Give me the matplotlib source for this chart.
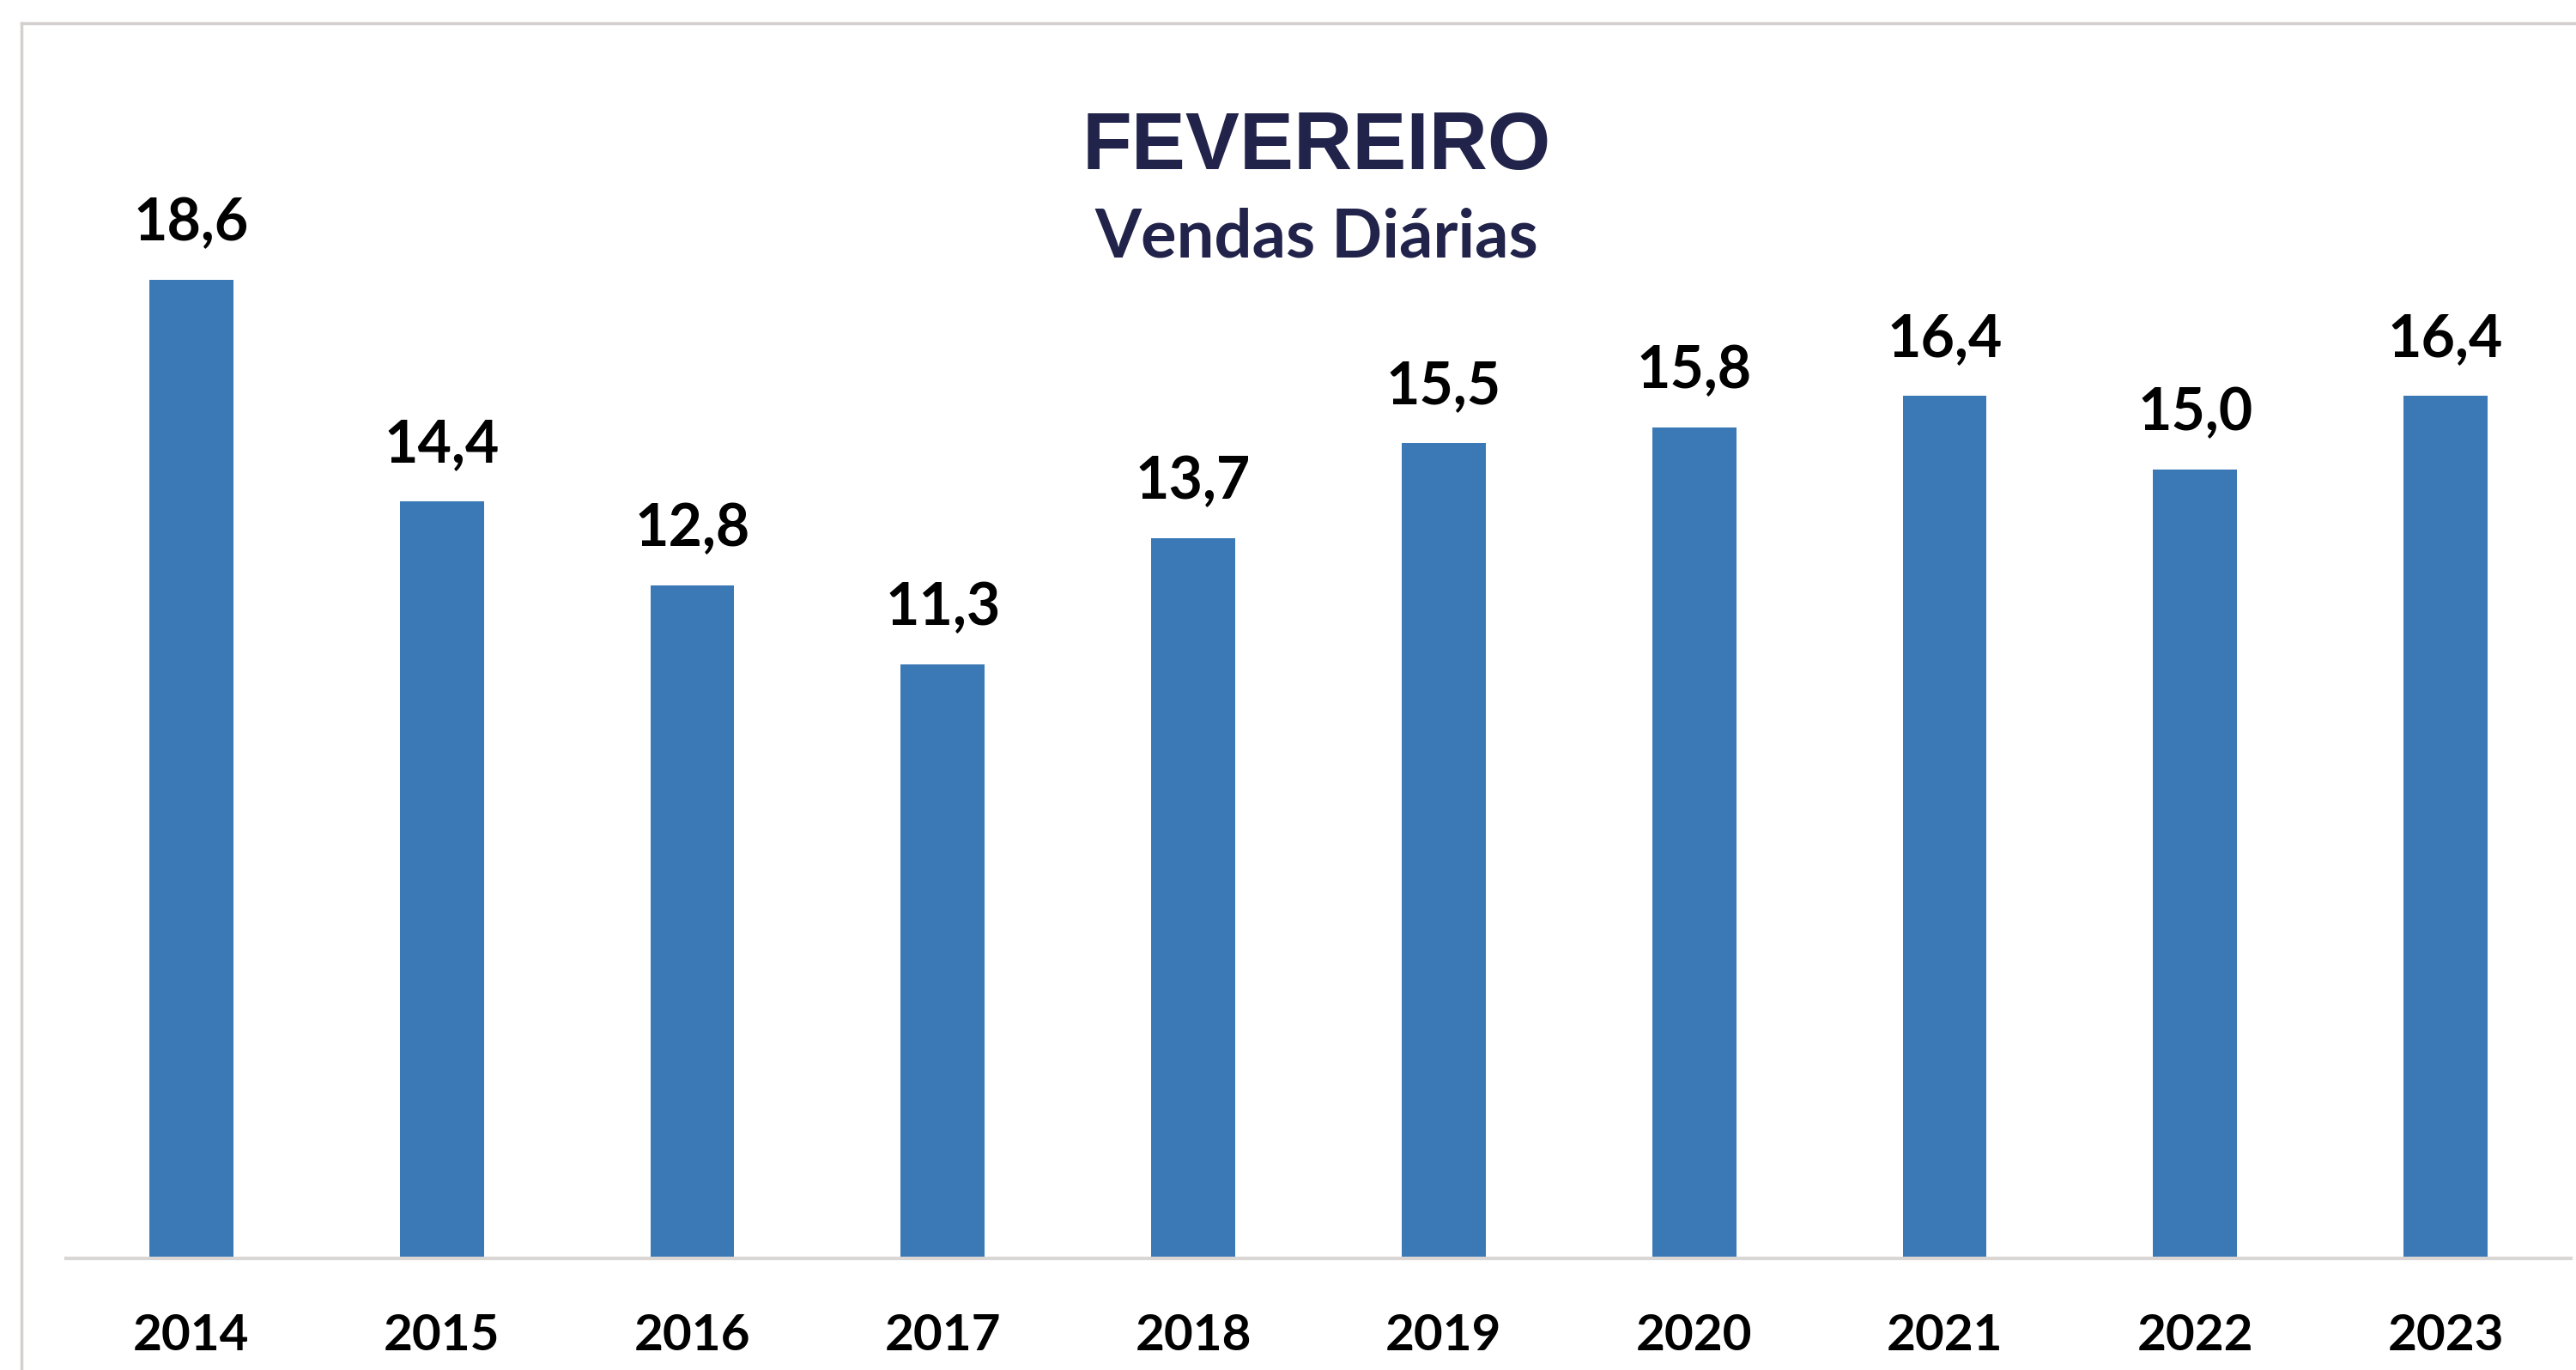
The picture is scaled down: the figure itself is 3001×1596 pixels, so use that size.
import matplotlib
matplotlib.use("Agg")
import matplotlib.pyplot as plt
from matplotlib.lines import Line2D

# data
years = ["2014", "2015", "2016", "2017", "2018", "2019", "2020", "2021", "2022", "2023"]
vendas = [18.6, 14.4, 12.8, 11.3, 13.7, 15.5, 15.8, 16.4, 15.0, 16.4]
labels = ["18,6", "14,4", "12,8", "11,3", "13,7", "15,5", "15,8", "16,4", "15,0", "16,4"]

BAR = "#3b78b6"
NAVY = "#22234a"
W, H = 3001, 1596

fig = plt.figure(figsize=(W / 100, H / 100), dpi=100)
fig.patch.set_facecolor("white")

# frame lines (top + left) like the screenshot
fig.add_artist(Line2D([25 / W, 1.0], [1 - 27 / H, 1 - 27 / H], color="#d4d0ce", lw=2.5))
fig.add_artist(Line2D([25 / W, 25 / W], [0, 1 - 27 / H], color="#d4d0ce", lw=2.5))

ax = fig.add_axes([77 / W, 1 - 1466 / H, (2995 - 77) / W, 0.883])
x = range(len(years))
ax.bar(x, vendas, width=0.335, color=BAR, zorder=2)
ax.set_xlim(-0.5, 9.5)
ax.set_ylim(0, 23)

for i, (v, t) in enumerate(zip(vendas, labels)):
    ax.annotate(t, (i, v), xytext=(0, 47), textcoords="offset points",
                ha="center", va="center", fontsize=49, fontweight="bold",
                family=["Lato", "DejaVu Sans"], color="black")

ax.set_xticks(list(x))
ax.set_xticklabels(years, fontsize=42, fontweight="bold",
                   family=["Lato", "DejaVu Sans"], color="black")
ax.tick_params(axis="x", length=0, pad=46)
ax.set_yticks([])
for s in ["top", "right", "left"]:
    ax.spines[s].set_visible(False)
ax.spines["bottom"].set_color("#d9d6d4")
ax.spines["bottom"].set_linewidth(3)

fig.text(0.511, 0.892, "FEVEREIRO", ha="center", va="center", fontsize=68,
         fontweight="bold", family=["Liberation Sans", "DejaVu Sans"], color=NAVY)
fig.text(0.511, 0.826, "Vendas Diárias", ha="center", va="center", fontsize=56,
         fontweight="bold", family=["Lato", "DejaVu Sans"], color=NAVY)

fig.savefig("out.png", dpi=100)
